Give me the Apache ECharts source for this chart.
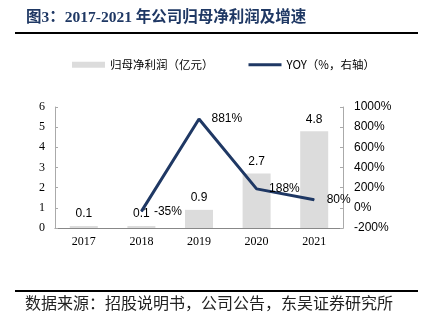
<!DOCTYPE html>
<html><head><meta charset="utf-8">
<script src="https://cdn.jsdelivr.net/npm/echarts@6/dist/echarts.min.js"></script>
<style>html,body{margin:0;padding:0;background:#fff}#c{width:428px;height:321px}</style>
</head><body><div id="c"></div>
<script>
var categories = ['2017','2018','2019','2020','2021'];
var profit = [0.1, 0.1, 0.9, 2.7, 4.8];
var yoy = [null, -35, 881, 188, 80];
var leftTicks = [0,1,2,3,4,5,6];
var rightTicks = [-200,0,200,400,600,800,1000];

var chart = echarts.init(document.getElementById('c'));
var navy = '#1f3864';
chart.setOption({
  animation:false,
  backgroundColor:'#fff',
  graphic:[
    {type:'text', left:26, top:10, style:{text:'图3：2017-2021 年公司归母净利润及增速', font:'bold 15.5px "Liberation Serif","Noto Sans CJK SC"', fill:navy}},
    {type:'line', shape:{x1:15,y1:33,x2:418,y2:33}, style:{stroke:'#000', lineWidth:2}},
    {type:'line', shape:{x1:15,y1:291,x2:418,y2:291}, style:{stroke:'#000', lineWidth:2}},
    {type:'text', left:25, top:295, style:{text:'数据来源：招股说明书，公司公告，东吴证券研究所', font:'16px "Noto Sans CJK SC"', fill:'#222'}}
  ],
  legend:{
    left:67, top:54, itemWidth:33, itemHeight:6, itemGap:35,
    textStyle:{fontSize:11.5, fontFamily:'"Noto Sans CJK SC"', color:'#000'},
    data:[{name:'归母净利润（亿元）', icon:'rect'}, {name:'YOY（%，右轴）', icon:'path://M0 0 H33 V3 H0 Z'}]
  },
  grid:{left:55, right:85, top:107, bottom:93},
  xAxis:{
    type:'category', data:categories,
    axisLine:{lineStyle:{color:'#888'}},
    axisTick:{inside:true, length:4, lineStyle:{color:'#888'}},
    axisLabel:{color:'#000', fontSize:12, fontFamily:'"Liberation Serif"', margin:8}
  },
  yAxis:[
    {type:'value', min:0, max:6, interval:1,
     axisLine:{show:true, lineStyle:{color:'#aaa'}},
     axisTick:{show:true, inside:true, length:3, lineStyle:{color:'#aaa'}},
     splitLine:{show:false},
     axisLabel:{color:'#000', fontSize:12, fontFamily:'"Liberation Serif"', margin:10}},
    {type:'value', min:-200, max:1000, interval:200, position:'right',
     axisLine:{show:true, lineStyle:{color:'#aaa'}},
     axisTick:{show:true, inside:true, length:3, lineStyle:{color:'#aaa'}},
     splitLine:{show:false},
     axisLabel:{color:'#000', fontSize:12, fontFamily:'"Liberation Sans"', margin:11, formatter:function(v){return v + '%';}}}
  ],
  series:[
    {name:'归母净利润（亿元）', type:'bar', data:profit, barWidth:28, yAxisIndex:0,
     itemStyle:{color:'#dcdcdc'},
     label:{show:true, position:'top', color:'#000', fontSize:12, fontFamily:'"Liberation Sans"', distance:6}},
    {name:'YOY（%，右轴）', type:'line', data:yoy, yAxisIndex:1,
     symbol:'circle', symbolSize:1, itemStyle:{color:navy},
     lineStyle:{color:navy, width:3},
     label:{show:true, position:'right', distance:12, color:'#000', fontSize:12, fontFamily:'"Liberation Sans"', formatter:'{c}%'}}
  ]
});
</script></body></html>
